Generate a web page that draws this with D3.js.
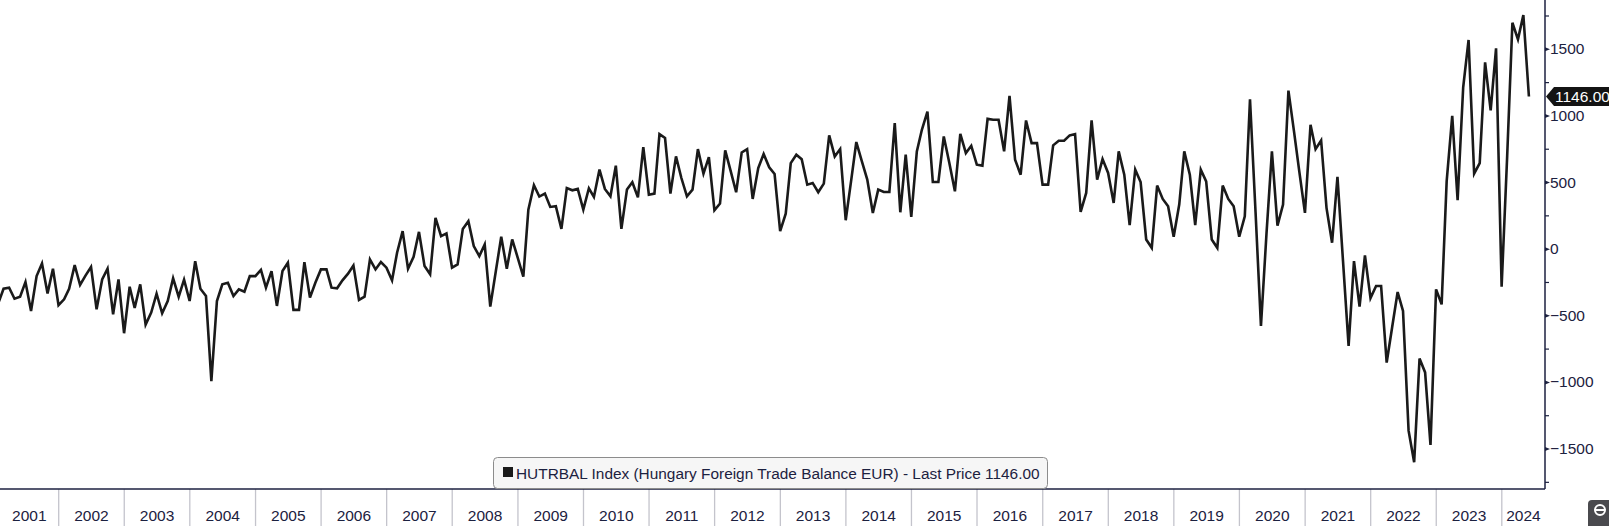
<!DOCTYPE html>
<html>
<head>
<meta charset="utf-8">
<script src="https://cdn.jsdelivr.net/npm/d3@7"></script>
<style>
  html, body { margin: 0; padding: 0; background: #ffffff; }
  svg { display: block; }
  text { font-family: "Liberation Sans", Arial, sans-serif; }
</style>
</head>
<body>
<svg id="chart" width="1609" height="526"></svg>
<script>
// ---------- DATA ----------
const seriesName = "HUTRBAL Index (Hungary Foreign Trade Balance EUR) - Last Price 1146.00";
const lastPriceLabel = "1146.00";
const firstYear = 2001;          // series starts January 2001, monthly
const tradeBalance = [
  // 2001
  -400, -297, -289, -372, -357, -247, -464, -202, -107, -332, -147, -421,
  // 2002
  -376, -297, -120, -269, -197, -134, -451, -227, -147, -489, -227, -631,
  // 2003
  -282, -441, -264, -566, -476, -334, -481, -389, -219, -357, -229, -389,
  // 2004
  -90, -297, -352, -990, -389, -264, -252, -352, -302, -319, -202, -202,
  // 2005
  -155, -289, -165, -426, -164, -102, -456, -456, -97, -364, -252, -152,
  // 2006
  -152, -289, -294, -234, -184, -122, -381, -357, -77, -152, -97, -139,
  // 2007
  -234, -27, 135, -147, -57, 130, -127, -189, 235, 98, 118, -139,
  // 2008
  -115, 152, 210, 23, -52, 35, -431, -164, 93, -147, 73, -65,
  // 2009
  -207, 297, 480, 395, 417, 317, 322, 152, 459, 442, 452, 297,
  // 2010
  457, 392, 597, 452, 397, 627, 152, 447, 502, 389, 766, 409,
  // 2011
  417, 863, 834, 417, 696, 534, 397, 447, 751, 567, 691, 292,
  // 2012
  342, 741, 584, 427, 726, 751, 377, 609, 714, 614, 564, 135,
  // 2013
  266, 646, 709, 675, 484, 497, 427, 492, 854, 696, 751, 217,
  // 2014
  522, 804, 659, 522, 272, 447, 429, 429, 946, 277, 709, 242,
  // 2015
  734, 896, 1033, 504, 504, 846, 646, 434, 866, 721, 776, 634,
  // 2016
  627, 978, 971, 971, 734, 1150, 671, 559, 966, 796, 796, 484,
  // 2017
  484, 779, 814, 814, 854, 864, 280, 422, 966, 522, 676, 572,
  // 2018
  347, 734, 559, 180, 597, 504, 73, 10, 477, 377, 322, 93,
  // 2019
  335, 734, 559, 180, 597, 509, 73, 10, 477, 377, 322, 93,
  // 2020
  247, 1125, 275, -576, 120, 734, 177, 335, 1190, 884, 578, 272,
  // 2021
  933, 751, 816, 310, 48, 542, -92, -726, -90, -431, -47, -367,
  // 2022
  -277, -277, -851, -590, -322, -464, -1362, -1599, -821, -925, -1469, -302,
  // 2023
  -414, 509, 1001, 367, 1215, 1570, 567, 646, 1402, 1041, 1507, -282,
  // 2024
  700, 1699, 1575, 1757, 1146
];
const yearLabels = ["2001","2002","2003","2004","2005","2006","2007","2008","2009","2010","2011","2012",
                    "2013","2014","2015","2016","2017","2018","2019","2020","2021","2022","2023","2024"];
const yTickValues = [-1500, -1000, -500, 0, 500, 1000, 1500];
const yMinorValues = [-1750, -1250, -750, -250, 250, 750, 1250, 1750];

// ---------- LAYOUT ----------
const W = 1609, H = 526;
const plotLeft = 0, plotRight = 1545, plotTop = 0, plotBottom = 489;
const navy = "#1c2140";

const svg = d3.select("#chart");

// x: time scale, year boundaries at measured pixel positions
const x = d3.scaleTime()
  .domain([new Date(2002, 0, 1), new Date(2024, 0, 1)])
  .range([58.7, 1501.8]);

const y = d3.scaleLinear()
  .domain([-1800, 1870])
  .range([plotBottom, plotTop]);

// monthly points plotted at month end
const data = tradeBalance.map((v, i) => ({
  date: new Date(firstYear, i + 1, 0),
  value: v
}));

// clip
svg.append("defs").append("clipPath").attr("id", "plotClip")
  .append("rect")
  .attr("x", plotLeft).attr("y", plotTop)
  .attr("width", plotRight - plotLeft).attr("height", plotBottom - plotTop);

// line
const line = d3.line()
  .x(d => x(d.date))
  .y(d => y(d.value));

svg.append("path")
  .datum(data)
  .attr("clip-path", "url(#plotClip)")
  .attr("fill", "none")
  .attr("stroke", "#1a1a1a")
  .attr("stroke-width", 2.6)
  .attr("stroke-linejoin", "miter")
  .attr("stroke-miterlimit", 4)
  .attr("d", line);

// ---------- X AXIS (year bands) ----------
const yearStarts = yearLabels.map(s => new Date(+s, 0, 1));
const sepG = svg.append("g");
yearStarts.forEach((d, i) => {
  const xs = x(d);
  if (xs > plotLeft && xs < plotRight) {
    sepG.append("line")
      .attr("x1", xs).attr("x2", xs)
      .attr("y1", plotBottom).attr("y2", H)
      .attr("stroke", "#c4c4cc").attr("stroke-width", 1.3);
  }
});
yearLabels.forEach((lab, i) => {
  const a = Math.max(plotLeft, x(new Date(+lab, 0, 1)));
  const b = Math.min(plotRight, x(new Date(+lab + 1, 0, 1)));
  svg.append("text")
    .attr("x", (a + b) / 2)
    .attr("y", 521)
    .attr("text-anchor", "middle")
    .attr("font-size", 15.5)
    .attr("fill", navy)
    .text(lab);
});

// x axis line
svg.append("line")
  .attr("x1", plotLeft).attr("x2", plotRight)
  .attr("y1", plotBottom).attr("y2", plotBottom)
  .attr("stroke", navy).attr("stroke-width", 1.5);

// ---------- Y AXIS (right) ----------
svg.append("line")
  .attr("x1", plotRight).attr("x2", plotRight)
  .attr("y1", plotTop).attr("y2", plotBottom)
  .attr("stroke", navy).attr("stroke-width", 1.5);

const yG = svg.append("g");
yMinorValues.forEach(v => {
  yG.append("line")
    .attr("x1", plotRight).attr("x2", plotRight + 4)
    .attr("y1", y(v)).attr("y2", y(v))
    .attr("stroke", navy).attr("stroke-width", 1.2);
});
yTickValues.forEach(v => {
  const yy = y(v);
  yG.append("path")
    .attr("d", `M${plotRight},${yy - 2} L${plotRight + 5},${yy} L${plotRight},${yy + 2} Z`)
    .attr("fill", navy);
  yG.append("text")
    .attr("x", plotRight + 5)
    .attr("y", yy + 5)
    .attr("font-size", 15.5)
    .attr("fill", navy)
    .text(d3.format("d")(v));
});

// last price tag
const lastV = tradeBalance[tradeBalance.length - 1];
const ly = y(lastV);
svg.append("path")
  .attr("d", `M${plotRight + 1},${ly} L${plotRight + 9},${ly - 9.5} L${W},${ly - 9.5} L${W},${ly + 9.5} L${plotRight + 9},${ly + 9.5} Z`)
  .attr("fill", "#141414");
svg.append("text")
  .attr("x", plotRight + 10)
  .attr("y", ly + 5.5)
  .attr("font-size", 15.5)
  .attr("fill", "#ffffff")
  .text(lastPriceLabel);

// ---------- LEGEND ----------
const lg = svg.append("g");
lg.append("rect")
  .attr("x", 493.5).attr("y", 457.5)
  .attr("width", 554).attr("height", 31)
  .attr("rx", 4).attr("ry", 4)
  .attr("fill", "#f6f6f6")
  .attr("stroke", "#8c8c8c").attr("stroke-width", 1);
lg.append("rect")
  .attr("x", 503).attr("y", 467)
  .attr("width", 10).attr("height", 10)
  .attr("fill", "#1a1a1a");
lg.append("text")
  .attr("x", 516).attr("y", 478.5)
  .attr("font-size", 15.4)
  .attr("fill", navy)
  .text(seriesName);

// ---------- corner icon ----------
const ic = svg.append("g");
ic.append("rect")
  .attr("x", 1588).attr("y", 500)
  .attr("width", 26).attr("height", 32)
  .attr("rx", 4)
  .attr("fill", "#4a4a4e");
ic.append("circle")
  .attr("cx", 1600).attr("cy", 510).attr("r", 5)
  .attr("fill", "none").attr("stroke", "#ffffff").attr("stroke-width", 2);
ic.append("line")
  .attr("x1", 1596).attr("x2", 1604).attr("y1", 510).attr("y2", 510)
  .attr("stroke", "#ffffff").attr("stroke-width", 2);
</script>
</body>
</html>
